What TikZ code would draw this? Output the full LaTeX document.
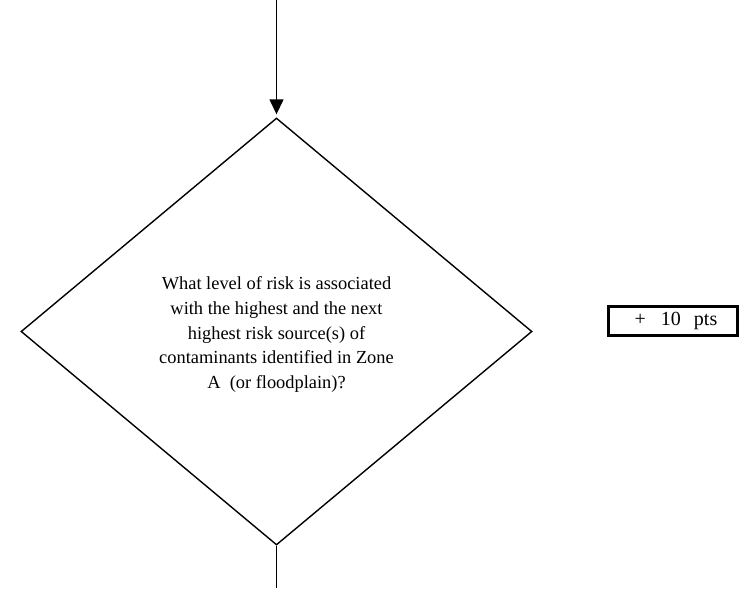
\documentclass[tikz,border=0pt]{standalone}
\usepackage{fontspec}
\setmainfont{Liberation Serif}
\usetikzlibrary{shapes.geometric,arrows.meta,positioning}
\tikzset{
  decision/.style={diamond, draw, line width=1.4pt, inner sep=0pt,
    minimum width=511pt, minimum height=427pt},
  qtext/.style={align=center, font=\fontsize{18.4}{24.6}\selectfont},
  ptsbox/.style={draw, line width=3pt, minimum width=129pt, minimum height=29pt,
    inner sep=0pt, font=\fontsize{20}{22}\selectfont},
  flow/.style={line width=1.4pt},
}
\begin{document}
\begin{tikzpicture}
\useasboundingbox (0,0) rectangle (750pt,-592pt);
% decision diamond
\node[decision] (q) at (276.5pt,-331.5pt) {};
\node[qtext] (qt) at ([yshift=-3pt]q.center) {What level of risk is associated\\with the highest and the next\\highest risk source(s) of\\contaminants identified in Zone\\A\ \ (or floodplain)?};
% score box
\node[ptsbox] (pts) at (672.5pt,-320.5pt) {\hspace*{7pt}+\hspace{15pt}10\hspace{13pt}pts};
% connectors
\coordinate (in) at (276.5pt,0pt);
\coordinate (out) at (276.5pt,-588pt);
\draw[flow, -{Triangle[length=15pt,width=14pt]}] (in) -- ([yshift=3pt]q.north);
\draw[flow] (q.south) -- (out);
\end{tikzpicture}
\end{document}
